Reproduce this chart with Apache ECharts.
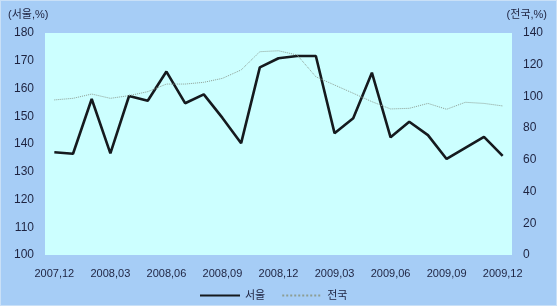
<!DOCTYPE html>
<html>
<head>
<meta charset="utf-8">
<script src="https://cdn.jsdelivr.net/npm/echarts@6/dist/echarts.min.js"></script>
<style>
  html, body { margin: 0; padding: 0; background: #c9e0f7; }
  #chart { width: 555px; height: 304px; border: 1px solid #c9e0f7; background: #a6cdf6; }
</style>
</head>
<body>
<div id="chart"></div>
<script>
// 월별 (2007.12 ~ 2009.12)
var months = [
  "2007,12", "2008,01", "2008,02", "2008,03", "2008,04", "2008,05", "2008,06",
  "2008,07", "2008,08", "2008,09", "2008,10", "2008,11", "2008,12",
  "2009,01", "2009,02", "2009,03", "2009,04", "2009,05", "2009,06",
  "2009,07", "2009,08", "2009,09", "2009,10", "2009,11", "2009,12"
];
// 서울 (왼쪽 축)
var seoul = [
  137.0, 136.5, 156.2, 136.6, 157.3, 155.6, 166.1,
  154.7, 157.9, 149.4, 140.3, 167.6, 170.9,
  171.7, 171.7, 143.9, 149.3, 165.7, 142.4,
  148.0, 143.2, 134.6, 138.6, 142.6, 135.7
];
// 전국 (오른쪽 축)
var national = [
  97.8, 98.8, 101.5, 98.8, 100.5, 103.0, 107.8,
  107.8, 108.9, 111.4, 116.7, 128.2, 128.8,
  126.1, 112.4, 107.2, 102.0, 96.7, 92.1,
  92.5, 95.6, 91.9, 96.3, 95.6, 94.0
];

var textColor = "#1e2340";
var font = "Arial, 'Liberation Sans', 'Noto Sans CJK KR', sans-serif";

var chart = echarts.init(document.getElementById("chart"));

var option = {
  backgroundColor: "#a6cdf6",
  textStyle: { fontFamily: font },
  grid: {
    show: true,
    left: 44,
    right: 44,
    top: 32,
    bottom: 50,
    backgroundColor: "#ccffff",
    borderWidth: 0
  },
  graphic: [
    {
      type: "text", left: 7, top: 8,
      style: { text: "(서울,%)", fill: textColor, fontSize: 11, fontFamily: font }
    },
    {
      type: "text", right: 9, top: 8,
      style: { text: "(전국,%)", fill: textColor, fontSize: 11, fontFamily: font }
    }
  ],
  legend: {
    left: 193,
    top: 284,
    itemWidth: 40,
    itemHeight: 10,
    itemGap: 16,
    textStyle: { color: textColor, fontSize: 11, fontFamily: font },
    data: [
      { name: "서울", itemStyle: { opacity: 0 } },
      { name: "전국", itemStyle: { opacity: 0 } }
    ]
  },
  xAxis: {
    type: "category",
    data: months,
    boundaryGap: true,
    axisLine: { show: false },
    axisTick: { show: false },
    splitLine: { show: false },
    axisLabel: {
      interval: 2,
      color: textColor,
      fontSize: 11,
      margin: 13
    }
  },
  yAxis: [
    {
      type: "value",
      min: 100,
      max: 180,
      interval: 10,
      axisLine: { show: false },
      axisTick: { show: false },
      splitLine: { show: false },
      axisLabel: { color: textColor, fontSize: 12, margin: 11 }
    },
    {
      type: "value",
      min: 0,
      max: 140,
      interval: 20,
      position: "right",
      axisLine: { show: false },
      axisTick: { show: false },
      splitLine: { show: false },
      axisLabel: { color: textColor, fontSize: 12, margin: 11 }
    }
  ],
  series: [
    {
      name: "서울",
      type: "line",
      yAxisIndex: 0,
      data: seoul,
      symbol: "none",
      lineStyle: { color: "#151a1e", width: 2.6 },
      itemStyle: { color: "#151a1e" }
    },
    {
      name: "전국",
      type: "line",
      yAxisIndex: 1,
      data: national,
      symbol: "none",
      lineStyle: { color: "#8d9e94", width: 1, type: "dotted" },
      itemStyle: { color: "#8d9e94" }
    }
  ]
};

chart.setOption(option);
</script>
</body>
</html>
